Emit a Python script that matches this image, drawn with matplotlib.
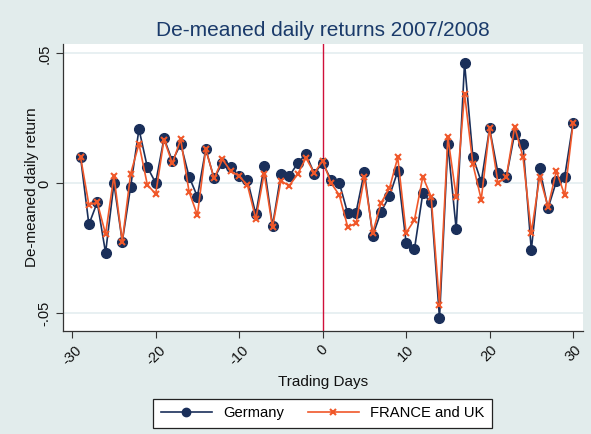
import numpy as np
import matplotlib
matplotlib.use('Agg')
import matplotlib.pyplot as plt

plt.rcParams['font.family'] = ['Liberation Sans', 'DejaVu Sans']

# trading days relative to event, and de-meaned returns
days = list(range(-29, 31))
germany = [
    0.0102, -0.0158, -0.0073, -0.0267, 0.0000, -0.0224, -0.0013, 0.0209, 0.0063, 0.0002,
    0.0174, 0.0086, 0.0152, 0.0026, -0.0051, 0.0132, 0.0019, 0.0079, 0.0064, 0.0028,
    0.0013, -0.0119, 0.0067, -0.0163, 0.0035, 0.0028, 0.0077, 0.0113, 0.0038, 0.0079,
    0.0015, 0.0002, -0.0115, -0.0112, 0.0045, -0.0201, -0.0109, -0.0049, 0.0047, -0.0228,
    -0.0253, -0.0038, -0.0073, -0.0519, 0.0151, -0.0176, 0.0464, 0.0102, 0.0006, 0.0212,
    0.0041, 0.0023, 0.0192, 0.0151, -0.0257, 0.0058, -0.0096, 0.0008, 0.0026, 0.0233,
]
france_uk = [
    0.0102, -0.0082, -0.0073, -0.0195, 0.0029, -0.0224, 0.0037, 0.0152, -0.0005, -0.0041,
    0.0169, 0.0077, 0.0170, -0.0032, -0.0122, 0.0132, 0.0019, 0.0093, 0.0047, 0.0028,
    -0.0007, -0.0137, 0.0038, -0.0169, 0.0010, -0.0009, 0.0035, 0.0098, 0.0040, 0.0088,
    0.0002, -0.0045, -0.0167, -0.0154, 0.0023, -0.0190, -0.0075, -0.0019, 0.0100, -0.0190,
    -0.0141, 0.0026, -0.0051, -0.0468, 0.0179, -0.0051, 0.0346, 0.0074, -0.0062, 0.0212,
    0.0002, 0.0023, 0.0218, 0.0102, -0.0190, 0.0026, -0.0090, 0.0047, -0.0045, 0.0231,
]
xticks = [-30, -20, -10, 0, 10, 20, 30]
yticks = [-0.05, 0, 0.05]
ytick_labels = ['-.05', '0', '.05']

bg = '#E2ECEC'
navy = '#1A2F5A'
orange = '#F0582A'

fig = plt.figure(figsize=(5.91, 4.34), dpi=100, facecolor=bg)
ax = fig.add_axes([0.1066, 0.2373, 0.880, 0.661])
ax.set_facecolor('white')

for yv in yticks:
    ax.axhline(yv, color='#E4EEF0', lw=1.2, zorder=0)
ax.axvline(0, color='#D0103A', lw=1.0, zorder=1)

ax.plot(days, germany, color=navy, lw=1.2, marker='o', ms=7, mfc=navy, mec=navy,
        label='Germany', zorder=3)
ax.plot(days, france_uk, color=orange, lw=1.2, marker='x', ms=5, mew=1.5,
        label='FRANCE and UK', zorder=4)

ax.set_xlim(-31.1, 31.2)
ax.set_ylim(-0.0568, 0.0536)
ax.set_xticks(xticks)
ax.set_xticklabels([str(t) for t in xticks], rotation=45, fontsize=10.5)
ax.set_yticks(yticks)
ax.set_yticklabels(ytick_labels, rotation=90, va='center', fontsize=10.5)
ax.tick_params(direction='out', length=5, width=0.8, color='#333333', labelcolor='#111111')

for side in ['top', 'right']:
    ax.spines[side].set_visible(False)
for side in ['left', 'bottom']:
    ax.spines[side].set_color('#333333')
    ax.spines[side].set_linewidth(0.9)

ax.set_xlabel('Trading Days', fontsize=11, color='#111111', labelpad=5)
ax.set_ylabel('De-meaned daily return', fontsize=11, color='#111111', labelpad=-1)
fig.text(0.546, 0.93, 'De-meaned daily returns 2007/2008', ha='center', va='center',
         fontsize=15, color='#1A3A6A')

leg = fig.legend(loc='center', bbox_to_anchor=(0.546, 0.048), ncol=2, fontsize=10.6,
                 frameon=True, fancybox=False, edgecolor='#222222', framealpha=1,
                 handlelength=3.45, columnspacing=1.6, borderpad=0.5)
leg.get_frame().set_linewidth(0.9)
leg.legend_handles[0].set_markersize(6)
leg.legend_handles[1].set_markersize(4)

fig.savefig('out.png', dpi=100, facecolor=bg)
